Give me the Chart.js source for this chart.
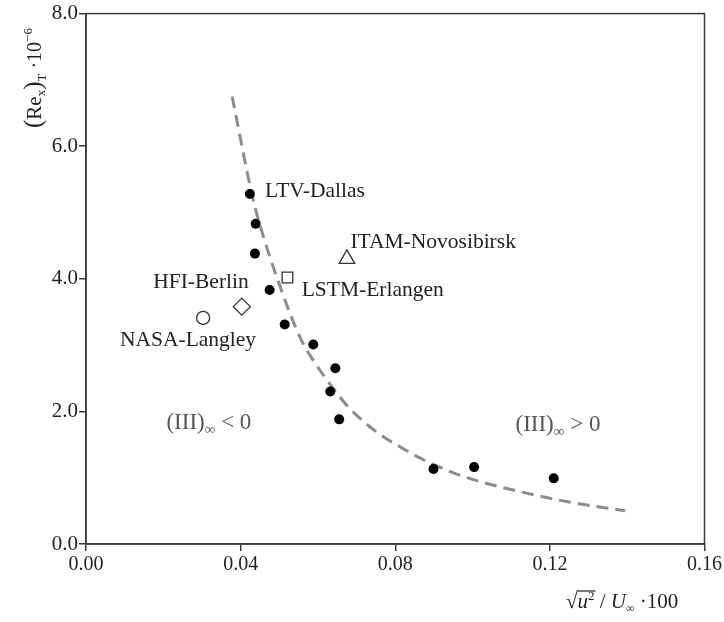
<!DOCTYPE html>
<html>
<head>
<meta charset="utf-8">
<script src="https://cdn.jsdelivr.net/npm/chart.js@4.4.0/dist/chart.umd.min.js"></script>
<style>
  html, body { margin: 0; padding: 0; background: #fff; }
  #wrap { width: 724px; height: 622px; }
</style>
</head>
<body>
<div id="wrap"><canvas id="chart" width="724" height="622"></canvas></div>
<script>
// measured transition points (filled dots)
const dotX = [0.0424, 0.0439, 0.0437, 0.0475, 0.0514, 0.0588, 0.0645, 0.0632, 0.0655, 0.0899, 0.1004, 0.1210];
const dotY = [5.28, 4.83, 4.38, 3.83, 3.31, 3.01, 2.65, 2.30, 1.88, 1.13, 1.16, 0.99];

// wind tunnel facilities (open markers)
const siteNames = ["NASA-Langley", "HFI-Berlin", "LSTM-Erlangen", "ITAM-Novosibirsk"];
const siteX = [0.0303, 0.0403, 0.0521, 0.0675];
const siteY = [3.41, 3.58, 4.02, 4.30];

// dashed correlation curve
const curveX = [0.0378, 0.0429, 0.0447, 0.0498, 0.0555, 0.0588, 0.0634, 0.0678, 0.0747, 0.0832, 0.0891, 0.0986, 0.1115, 0.1243, 0.1395];
const curveY = [6.75, 5.28, 4.87, 3.95, 3.10, 2.77, 2.39, 2.07, 1.71, 1.40, 1.22, 1.00, 0.80, 0.64, 0.50];

const xTicks = [0, 0.04, 0.08, 0.12, 0.16];
const yTicks = [0, 2, 4, 6, 8];

const SERIF = "'Liberation Serif', 'DejaVu Serif', serif";
const AXIS = "#3a3a3a";

function pts(xs, ys) {
    return xs.map((x, i) => ({ x, y: ys[i] }));
}

const siteStyles = ["circle", "rectRot", "rect", "triangle"];
const siteSizes = [6.5, 8.5, 7.5, 9];

function siteDataset(i) {
    return {
        type: "scatter",
        label: siteNames[i],
        data: [{ x: siteX[i], y: siteY[i] }],
        pointStyle: siteStyles[i],
        pointRadius: siteSizes[i],
        pointBackgroundColor: "#fff",
        pointBorderColor: "#333",
        pointBorderWidth: 1.3,
        order: 0
    };
}

// text runs: [text, fontSize, dy, italic]
function drawRuns(ctx, runs, x, y) {
    let cx = x;
    const pos = [];
    runs.forEach(([t, size, dy, italic]) => {
        ctx.font = `${italic ? "italic " : ""}${size}px ${SERIF}`;
        ctx.fillText(t, cx, y + (dy || 0));
        const w = ctx.measureText(t).width;
        pos.push([cx, cx + w]);
        cx += w;
    });
    return pos;
}

const notes = [
    { runs: [["LTV-Dallas", 21.5]], x: 0.0463, y: 5.23, align: "left", color: "#222" },
    { runs: [["ITAM-Novosibirsk", 21.5]], x: 0.0684, y: 4.47, align: "left", color: "#222" },
    { runs: [["HFI-Berlin", 21.5]], x: 0.0421, y: 3.86, align: "right", color: "#222" },
    { runs: [["LSTM-Erlangen", 21.5]], x: 0.0558, y: 3.74, align: "left", color: "#222" },
    { runs: [["NASA-Langley", 21.5]], x: 0.0440, y: 2.99, align: "right", color: "#222" },
    { runs: [["(III)", 23], ["\u221e", 15, 5], [" < 0", 23]], x: 0.0208, y: 1.74, align: "left", color: "#555" },
    { runs: [["(III)", 23], ["\u221e", 15, 5], [" > 0", 23]], x: 0.1111, y: 1.71, align: "left", color: "#555" }
];

const decorPlugin = {
    id: "decor",
    afterDraw(chart) {
        const { ctx, chartArea: a, scales: { x, y } } = chart;
        ctx.save();
        ctx.strokeStyle = AXIS;
        ctx.lineWidth = 1.5;
        ctx.strokeRect(a.left, a.top, a.right - a.left, a.bottom - a.top);

        ctx.textBaseline = "alphabetic";
        ctx.textAlign = "left";
        notes.forEach(n => {
            ctx.fillStyle = n.color;
            let px = x.getPixelForValue(n.x);
            if (n.align === "right") {
                let w = 0;
                n.runs.forEach(([t, size]) => { ctx.font = `${size}px ${SERIF}`; w += ctx.measureText(t).width; });
                px -= w;
            }
            drawRuns(ctx, n.runs, px, y.getPixelForValue(n.y));
        });

        // y title
        ctx.fillStyle = "#222";
        ctx.save();
        ctx.translate(41, 128);
        ctx.rotate(-Math.PI / 2);
        drawRuns(ctx, [["(", 25], ["Re", 21], ["x", 13, 4], [")", 25], ["T", 13, 5], [" \u00b710", 20], ["\u22126", 13, -9]], 0, 0);
        ctx.restore();

        // x title
        const base = 608;
        const p = drawRuns(ctx, [["\u221a", 21], ["u", 21, 0, true], ["2", 13, -8], [" / ", 21], ["U", 21, 0, true], ["\u221e", 12, 4], [" \u00b7100", 21]], 566, base);
        ctx.strokeStyle = "#222";
        ctx.lineWidth = 1.2;
        ctx.beginPath();
        ctx.moveTo(p[0][1] - 1, base - 17);
        ctx.lineTo(p[2][1] + 1, base - 17);
        ctx.stroke();
        ctx.restore();
    }
};

new Chart(document.getElementById("chart"), {
    type: "scatter",
    data: {
        datasets: [
            {
                type: "line",
                label: "curve",
                data: pts(curveX, curveY),
                borderColor: "#8c8c8c",
                borderWidth: 3,
                borderDash: [12, 7],
                pointRadius: 0,
                fill: false,
                cubicInterpolationMode: "monotone",
                order: 5
            },
            {
                type: "scatter",
                label: "measured",
                data: pts(dotX, dotY),
                pointRadius: 5,
                pointBackgroundColor: "#000",
                pointBorderColor: "#000",
                pointBorderWidth: 0,
                order: 0
            },
            siteDataset(0), siteDataset(1), siteDataset(2), siteDataset(3)
        ]
    },
    options: {
        responsive: false,
        animation: false,
        layout: { padding: { top: 12, right: 16, left: 0, bottom: 0 } },
        plugins: { legend: { display: false }, tooltip: { enabled: false } },
        scales: {
            x: {
                type: "linear",
                min: 0,
                max: 0.16,
                afterBuildTicks: s => { s.ticks = xTicks.map(v => ({ value: v })); },
                afterFit: s => { s.height = 78; },
                ticks: {
                    callback: v => v.toFixed(2),
                    font: { family: SERIF, size: 20 },
                    color: "#222",
                    padding: 2,
                    maxRotation: 0
                },
                grid: { drawOnChartArea: false, tickLength: 7, tickColor: AXIS, lineWidth: 1.5 },
                border: { color: AXIS, width: 1.5 }
            },
            y: {
                type: "linear",
                min: 0,
                max: 8,
                afterBuildTicks: s => { s.ticks = yTicks.map(v => ({ value: v })); },
                afterFit: s => { s.width = 86; },
                ticks: {
                    callback: v => v.toFixed(1),
                    font: { family: SERIF, size: 21 },
                    color: "#222",
                    padding: 1
                },
                grid: { drawOnChartArea: false, tickLength: 7, tickColor: AXIS, lineWidth: 1.5 },
                border: { color: AXIS, width: 1.5 }
            }
        }
    },
    plugins: [decorPlugin]
});
</script>
</body>
</html>
